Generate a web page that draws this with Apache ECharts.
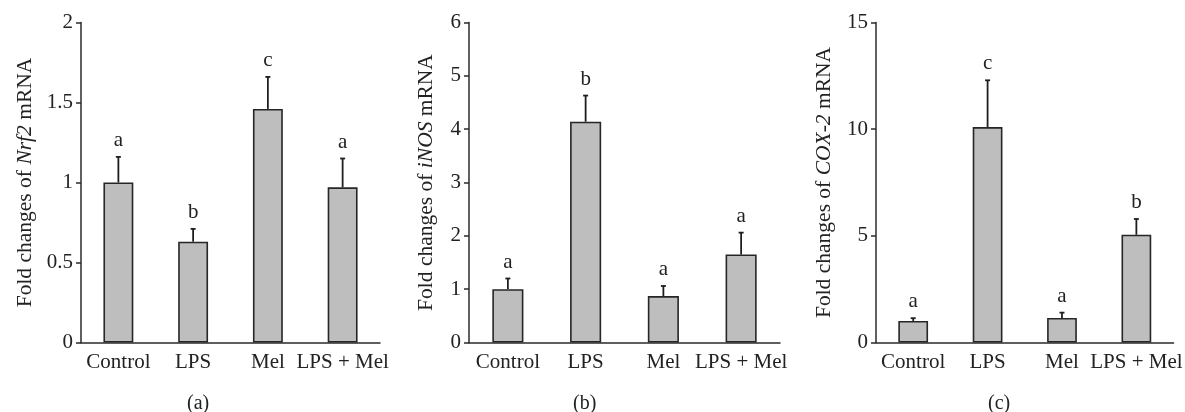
<!DOCTYPE html>
<html>
<head>
<meta charset="utf-8">
<script src="https://cdn.jsdelivr.net/npm/echarts@6/dist/echarts.min.js"></script>
<style>
  html, body { margin: 0; padding: 0; background: #fff; }
  #chart { width: 1185px; height: 412px; }
</style>
</head>
<body>
<div id="chart"></div>
<script>
// groups on the x axis
const categories = ['Control', 'LPS', 'Mel', 'LPS + Mel'];

// (a) Nrf2
const nrf2Mean = [1.0, 0.63, 1.46, 0.97];
const nrf2Upper = [1.16, 0.71, 1.66, 1.15];
const nrf2Letters = ['a', 'b', 'c', 'a'];

// (b) iNOS
const inosMean = [1.0, 4.14, 0.87, 1.65];
const inosUpper = [1.2, 4.63, 1.06, 2.06];
const inosLetters = ['a', 'b', 'a', 'a'];

// (c) COX-2
const coxMean = [1.01, 10.1, 1.15, 5.05];
const coxUpper = [1.14, 12.29, 1.40, 5.79];
const coxLetters = ['a', 'c', 'a', 'b'];

// y axis ranges / ticks
const yMax = [2, 6, 15];
const yStep = [0.5, 1, 5];

const FONT = 'Liberation Serif';
const AXIS_COLOR = '#2b2b2b';

const panels = [
  { mean: nrf2Mean, upper: nrf2Upper, letters: nrf2Letters, gene: 'Nrf2',
    left: 81, width: 299, nameGap: 45, label: '(a)', labelX: 199 },
  { mean: inosMean, upper: inosUpper, letters: inosLetters, gene: 'iNOS',
    left: 469, width: 311, nameGap: 32, label: '(b)', labelX: 585 },
  { mean: coxMean, upper: coxUpper, letters: coxLetters, gene: 'COX-2',
    left: 876, width: 302, nameGap: 41, label: '(c)', labelX: 1000 }
];

const grid = [], xAxis = [], yAxis = [], series = [], graphic = [];

panels.forEach((p, k) => {
  grid.push({ left: p.left, top: 22.5, width: p.width, height: 320 });

  xAxis.push({
    gridIndex: k,
    type: 'category',
    data: categories,
    axisLine: { lineStyle: { color: AXIS_COLOR, width: 1.5 } },
    axisTick: { length: 5, lineStyle: { color: AXIS_COLOR, width: 1.5 } },
    axisLabel: { color: '#222', fontFamily: FONT, fontSize: 21, margin: 9, interval: 0 },
    splitLine: { show: false }
  });

  yAxis.push({
    gridIndex: k,
    type: 'value',
    min: 0,
    max: yMax[k],
    interval: yStep[k],
    name: '{n|Fold changes of }{i|' + p.gene + '}{n| mRNA}',
    nameLocation: 'middle',
    nameGap: p.nameGap,
    nameRotate: 90,
    nameTextStyle: {
      rich: {
        n: { fontFamily: FONT, fontSize: 21.5, color: '#222' },
        i: { fontFamily: FONT, fontSize: 21.5, color: '#222', fontStyle: 'italic' }
      }
    },
    axisLine: { show: true, lineStyle: { color: AXIS_COLOR, width: 1.5 } },
    axisTick: { show: true, length: 5, lineStyle: { color: AXIS_COLOR, width: 1.5 } },
    axisLabel: { color: '#222', fontFamily: FONT, fontSize: 21, margin: 8 },
    splitLine: { show: false }
  });

  series.push({
    type: 'bar',
    xAxisIndex: k,
    yAxisIndex: k,
    data: p.mean,
    barWidth: '40%',
    itemStyle: { color: '#bebebe', borderColor: '#262626', borderWidth: 1.6 },
    silent: true
  });

  // error bar (upper only) + significance letter
  series.push({
    type: 'custom',
    xAxisIndex: k,
    yAxisIndex: k,
    data: p.mean.map((m, i) => [i, m, p.upper[i]]),
    encode: { x: 0, y: [1, 2] },
    z: 5,
    silent: true,
    renderItem: function (params, api) {
      const i = api.value(0);
      const base = api.coord([i, api.value(1)]);
      const top = api.coord([i, api.value(2)]);
      const style = { stroke: '#1e1e1e', lineWidth: 1.8 };
      return {
        type: 'group',
        children: [
          { type: 'line', shape: { x1: base[0], y1: base[1], x2: top[0], y2: top[1] }, style: style },
          { type: 'line', shape: { x1: top[0] - 2.5, y1: top[1], x2: top[0] + 2.5, y2: top[1] }, style: style },
          { type: 'text', x: top[0], y: top[1] - 6,
            style: { text: p.letters[params.dataIndex], fill: '#222', font: '21px "' + FONT + '"',
                     textAlign: 'center', textVerticalAlign: 'bottom' } }
        ]
      };
    }
  });

  graphic.push({
    type: 'text', left: p.labelX - 12, top: 394,
    style: { text: p.label, fill: '#222', font: '20px "' + FONT + '"' }
  });
});

const chart = echarts.init(document.getElementById('chart'));
chart.setOption({
  animation: false,
  backgroundColor: '#fff',
  grid: grid,
  xAxis: xAxis,
  yAxis: yAxis,
  series: series,
  graphic: graphic
});
</script>
</body>
</html>
